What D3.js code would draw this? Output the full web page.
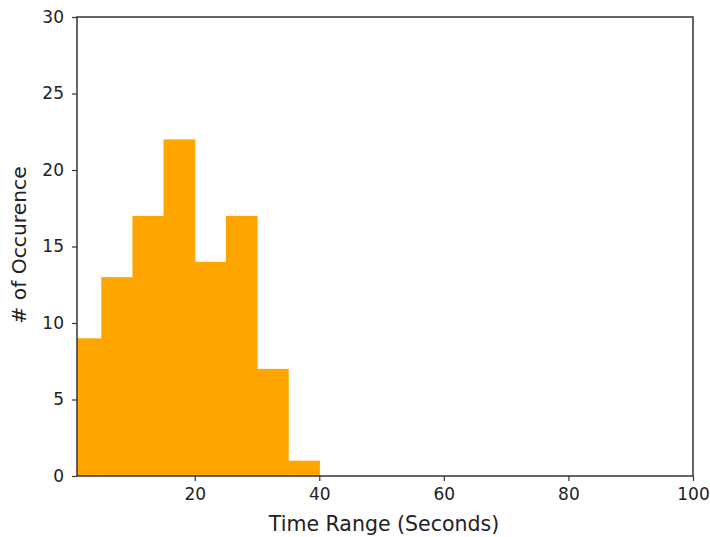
<!DOCTYPE html>
<html><head><meta charset="utf-8">
<script src="https://cdn.jsdelivr.net/npm/d3@7"></script>
<style>body{margin:0;background:#fff}svg{display:block}text{font-family:"DejaVu Sans",sans-serif;fill:#222}</style>
</head><body><svg id="c" width="710" height="537"></svg>
<script>
const binEdges = [0, 5, 10, 15, 20, 25, 30, 35, 40];
const counts = [9, 13, 17, 22, 14, 17, 7, 1];
const xTicks = [20, 40, 60, 80, 100];
const yTicks = [0, 5, 10, 15, 20, 25, 30];
const xLabel = "Time Range (Seconds)";
const yLabel = "# of Occurence";

const svg = d3.select("#c");
const m = {l: 77, r: 693, t: 17, b: 476};
const x = d3.scaleLinear().domain([1.1, 100]).range([m.l, m.r]);
const y = d3.scaleLinear().domain([0, 30]).range([m.b, m.t]);

svg.append("defs").append("clipPath").attr("id","clip").append("rect")
  .attr("x", m.l).attr("y", m.t).attr("width", m.r - m.l).attr("height", m.b - m.t);

const bins = counts.map((c, i) => ({x0: binEdges[i], x1: binEdges[i+1], c}));
svg.append("g").attr("clip-path","url(#clip)").selectAll("rect").data(bins).join("rect")
  .attr("x", d => x(d.x0)).attr("width", d => x(d.x1) - x(d.x0) + 0.6)
  .attr("y", d => y(d.c)).attr("height", d => y(0) - y(d.c))
  .attr("fill", "#FFA500");

const xa = svg.append("g").attr("transform", `translate(0,${m.b})`)
  .call(d3.axisBottom(x).tickValues(xTicks).tickSize(5).tickPadding(7));
const ya = svg.append("g").attr("transform", `translate(${m.l},0)`)
  .call(d3.axisLeft(y).tickValues(yTicks).tickSize(5).tickPadding(8));
[xa, ya].forEach(a => {
  a.select(".domain").remove();
  a.selectAll("line").attr("stroke", "#333").attr("stroke-width", 1.2);
  a.selectAll("text").attr("font-size", 17).attr("fill", "#222");
});

svg.append("rect").attr("x", m.l).attr("y", m.t).attr("width", m.r - m.l).attr("height", m.b - m.t)
  .attr("fill", "none").attr("stroke", "#333").attr("stroke-width", 1.5);

svg.append("text").attr("x", 384).attr("y", 531).attr("text-anchor", "middle")
  .attr("font-size", 20.5).text(xLabel);
svg.append("text").attr("transform", `translate(26,${245}) rotate(-90)`)
  .attr("text-anchor", "middle").attr("font-size", 20.3).text(yLabel);
</script></body></html>
